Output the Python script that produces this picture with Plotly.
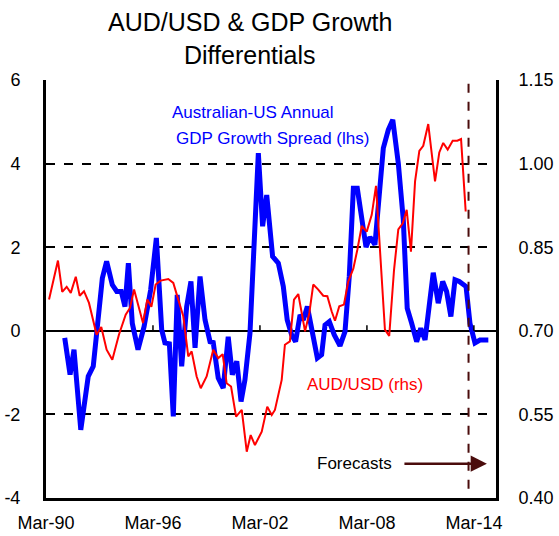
import plotly.graph_objects as go

# AUD/USD (rhs) - decimal year (1990.0 = Mar-90), value
aud_x = [1990.17, 1990.67, 1990.91, 1991.16, 1991.39, 1991.67, 1991.89, 1992.13, 1992.41, 1992.84,
         1993.10, 1993.40, 1993.72, 1994.09, 1994.47, 1994.71, 1994.94, 1995.22, 1995.44, 1995.68,
         1995.91, 1996.15, 1996.43, 1996.86, 1997.14, 1997.42, 1997.70, 1997.98, 1998.17, 1998.45,
         1998.68, 1999.01, 1999.38, 1999.66, 1999.91, 2000.13, 2000.38, 2000.66, 2000.98, 2001.26,
         2001.48, 2001.72, 2002.10, 2002.41, 2002.66, 2002.84, 2003.22, 2003.40, 2003.68, 2003.91,
         2004.15, 2004.53, 2004.77, 2004.99, 2005.27, 2005.55, 2005.78, 2006.02, 2006.21, 2006.45,
         2006.71, 2006.95, 2007.24, 2007.46, 2007.71, 2007.99, 2008.27, 2008.51, 2009.01, 2009.25,
         2009.52, 2009.76, 2010.01, 2010.23, 2010.47, 2010.70, 2010.94, 2011.16, 2011.44, 2011.82,
         2012.06, 2012.28, 2012.53, 2012.81, 2013.07, 2013.28, 2013.54]
aud_y = [0.756, 0.826, 0.770, 0.779, 0.768, 0.797, 0.763, 0.771, 0.750, 0.693,
         0.707, 0.666, 0.648, 0.693, 0.729, 0.741, 0.774, 0.741, 0.714, 0.756,
         0.743, 0.783, 0.790, 0.793, 0.786, 0.756, 0.726, 0.654, 0.663, 0.618,
         0.597, 0.618, 0.666, 0.651, 0.658, 0.606, 0.600, 0.546, 0.558, 0.483,
         0.513, 0.495, 0.519, 0.564, 0.549, 0.558, 0.612, 0.675, 0.681, 0.756,
         0.766, 0.699, 0.732, 0.783, 0.774, 0.763, 0.762, 0.735, 0.718, 0.744,
         0.747, 0.788, 0.812, 0.845, 0.888, 0.878, 0.908, 0.960, 0.702, 0.691,
         0.809, 0.882, 0.893, 0.917, 0.842, 0.968, 1.023, 1.032, 1.071, 0.968,
         1.020, 1.037, 1.025, 1.041, 1.041, 1.044, 0.914]

# Australian-US annual GDP growth spread (lhs)
gdp_x = [1991.05, 1991.35, 1991.57, 1991.95, 1992.37, 1992.65, 1993.16, 1993.40, 1993.72, 1993.97,
         1994.22, 1994.43, 1994.62, 1994.84, 1995.16, 1995.50, 1995.87, 1996.19, 1996.49, 1996.67,
         1996.92, 1997.14, 1997.36, 1997.61, 1997.89, 1998.13, 1998.36, 1998.64, 1998.92, 1999.20,
         1999.38, 1999.66, 1999.94, 2000.22, 2000.45, 2000.70, 2000.94, 2001.16, 2001.44, 2001.67,
         2001.91, 2002.15, 2002.38, 2002.71, 2003.03, 2003.31, 2003.53, 2003.78, 2004.00, 2004.25,
         2004.43, 2004.66, 2004.96, 2005.22, 2005.46, 2005.65, 2005.89, 2006.17, 2006.49, 2006.77,
         2007.01, 2007.24, 2007.46, 2007.71, 2007.95, 2008.17, 2008.45, 2008.92, 2009.20, 2009.45,
         2009.76, 2010.04, 2010.26, 2010.51, 2010.79, 2011.02, 2011.26, 2011.50, 2011.72, 2012.00,
         2012.25, 2012.47, 2012.71, 2012.94, 2013.18, 2013.56, 2013.78, 2014.06, 2014.34, 2014.81]
gdp_y = [-0.17, -1.05, -0.45, -2.37, -1.09, -0.85, 1.26, 1.66, 1.10, 0.94,
         0.94, 0.58, 1.62, 0.18, -0.45, 0.10, 0.98, 2.22, 0.02, -0.29,
         -0.31, -2.05, 0.86, -0.85, 0.58, 1.18, -0.41, 1.30, 0.26, -0.26,
         -0.28, -1.13, -1.37, -0.14, -1.05, -0.73, -1.69, -1.17, -0.06, 1.78,
         4.25, 2.50, 3.25, 1.78, 1.62, 1.06, 0.26, -0.10, -0.26, 0.38,
         0.26, 0.58, -0.14, -0.65, -0.57, 0.14, 0.22, -0.10, -0.36, -0.02,
         1.30, 3.41, 3.41, 2.58, 2.00, 2.24, 2.06, 4.37, 4.81, 5.05,
         4.01, 2.66, 0.54, 0.18, -0.26, 0.06, -0.22, 0.62, 1.39, 0.66,
         1.18, 0.94, 0.34, 1.22, 1.18, 1.06, 0.18, -0.29, -0.22, -0.22]

x_tickvals = [1990, 1996, 2002, 2008, 2014]
x_ticktext = ["Mar-90", "Mar-96", "Mar-02", "Mar-08", "Mar-14"]
lhs_ticks = [-4, -2, 0, 2, 4, 6]
lhs_text = ["-4", "-2", "0", "2", "4", "6"]
rhs_ticks = [0.40, 0.55, 0.70, 0.85, 1.00, 1.15]
forecast_start = 2013.70
title_lines = ["AUD/USD & GDP Growth", "Differentials"]

FONT = "Liberation Sans, Arial, sans-serif"
DARK = "#4a0c0c"

fig = go.Figure()
fig.add_trace(go.Scatter(x=gdp_x, y=gdp_y, mode="lines", yaxis="y",
                         line=dict(color="#0000ff", width=5), showlegend=False))
fig.add_trace(go.Scatter(x=aud_x, y=aud_y, mode="lines", yaxis="y2",
                         line=dict(color="#ff0000", width=2), showlegend=False))

# forecast divider
fig.add_shape(type="line", xref="x", yref="y", x0=forecast_start, x1=forecast_start,
              y0=-3.78, y1=6, line=dict(color=DARK, width=2, dash="dash"))
# small tick marks on the zero line
for tv in x_tickvals[1:]:
    fig.add_shape(type="line", xref="x", yref="y", x0=tv, x1=tv, y0=0, y1=0.13,
                  line=dict(color="black", width=1.5))

ann = []
ann.append(dict(x=0.4533, y=1.1388, xref="paper", yref="paper", yanchor="middle",
                text=title_lines[0], showarrow=False,
                font=dict(color="black", size=25, family=FONT)))
ann.append(dict(x=0.4533, y=1.0598, xref="paper", yref="paper", yanchor="middle",
                text=title_lines[1], showarrow=False,
                font=dict(color="black", size=25, family=FONT)))
ann.append(dict(x=2001.61, y=5.22, xref="x", yref="y", text="Australian-US Annual",
                showarrow=False, font=dict(color="#0000ff", size=17, family=FONT)))
ann.append(dict(x=2002.68, y=4.59, xref="x", yref="y", text="GDP Growth Spread (lhs)",
                showarrow=False, font=dict(color="#0000ff", size=17, family=FONT)))
ann.append(dict(x=2007.89, y=-1.29, xref="x", yref="y", text="AUD/USD (rhs)",
                showarrow=False, font=dict(color="#ff0000", size=17, family=FONT)))
ann.append(dict(x=2007.33, y=-3.18, xref="x", yref="y", text="Forecasts",
                showarrow=False, font=dict(color="black", size=17, family=FONT)))
ann.append(dict(x=2014.73, y=-3.18, ax=2010.02, ay=-3.18, xref="x", yref="y",
                axref="x", ayref="y", text="", showarrow=True, arrowhead=2,
                arrowsize=1.3, arrowwidth=2.5, arrowcolor=DARK))

fig.update_layout(
    width=559, height=536,
    margin=dict(l=46, r=63, t=80, b=38),
    paper_bgcolor="white", plot_bgcolor="white",
    font=dict(family=FONT, size=18, color="black"),
    xaxis=dict(range=[1990, 2015.24], tickvals=x_tickvals, ticktext=x_ticktext,
               showgrid=False, zeroline=False, showline=True, linecolor="black",
               linewidth=3, ticks="", ticklabelstandoff=6, automargin=False),
    yaxis=dict(range=[-4, 6], tickvals=lhs_ticks, ticktext=lhs_text, showgrid=True,
               gridcolor="black", griddash="dash", gridwidth=1.5, zeroline=True,
               zerolinecolor="black", zerolinewidth=2, showline=True, linecolor="black",
               linewidth=3, ticks="", ticklabelstandoff=19, automargin=False),
    yaxis2=dict(range=[0.40, 1.15], tickvals=rhs_ticks, tickformat=".2f", overlaying="y",
                side="right", showgrid=False, zeroline=False, showline=True,
                linecolor="black", linewidth=3, ticks="", ticklabelstandoff=16,
                automargin=False),
    annotations=ann,
)

fig.write_html("out.html", config={"displayModeBar": False},
               post_script="document.body.style.margin='0';")
